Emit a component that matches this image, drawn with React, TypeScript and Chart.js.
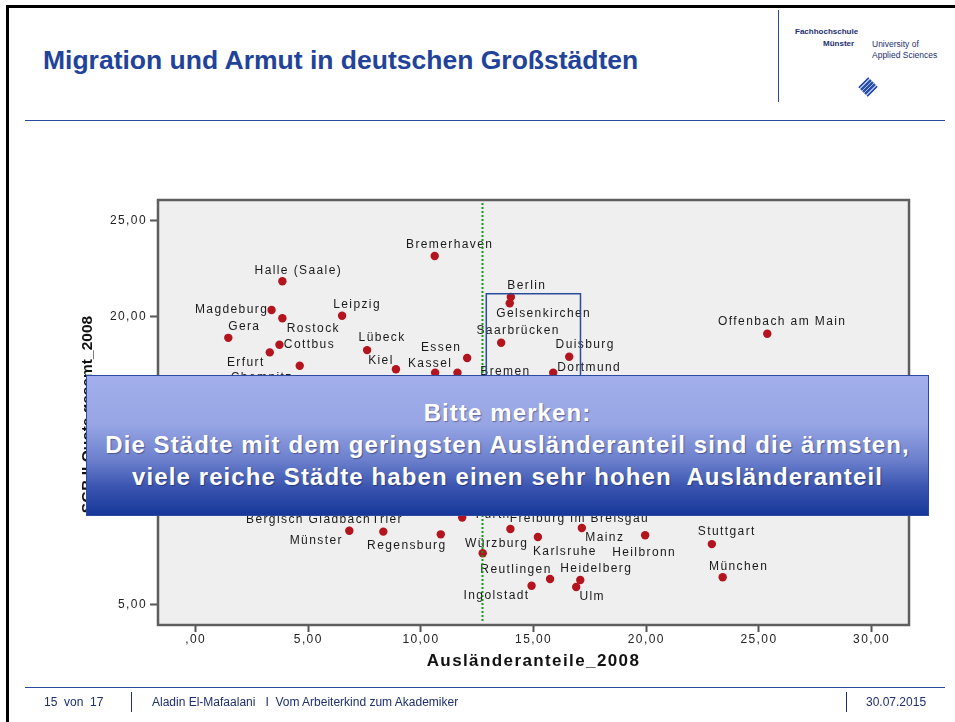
import React, { useEffect, useRef } from "react";
import { Chart, registerables } from "chart.js";

Chart.register(...registerables);

// ---------- data ----------
const cities = [
  "Bremerhaven", "Halle (Saale)", "Magdeburg", "Rostock", "Leipzig", "Gera", "Cottbus", "Erfurt",
  "Chemnitz", "Lübeck", "Kiel", "Essen", "Kassel", "Bremen", "Berlin", "Gelsenkirchen",
  "Saarbrücken", "Duisburg", "Dortmund", "Offenbach am Main", "Fürth", "Bergisch Gladbach",
  "Münster", "Trier", "Regensburg", "Würzburg", "Freiburg im Breisgau", "Mainz", "Karlsruhe",
  "Heilbronn", "Stuttgart", "München", "Reutlingen", "Heidelberg", "Ingolstadt", "Ulm",
];
const auslaenderanteil = [
  10.61, 3.85, 3.37, 3.85, 6.5, 1.45, 3.72, 3.29,
  4.62, 7.61, 8.89, 12.05, 10.63, 11.62, 13.99, 13.94,
  13.56, 16.58, 15.87, 25.37, 11.83, 5.9,
  6.82, 8.33, 10.88, 12.74, 13.97, 17.14, 15.19,
  19.95, 22.91, 23.39, 15.73, 17.07, 14.91, 16.89,
];
const sgb2Quote = [
  23.17, 21.85, 20.35, 19.92, 20.05, 18.9, 18.54, 18.14,
  17.44, 18.26, 17.26, 17.85, 17.08, 17.08, 21.03, 20.7,
  18.64, 17.91, 17.08, 19.11, 9.53, 10.0,
  8.84, 8.79, 8.65, 7.66, 8.93, 8.98, 8.51,
  8.6, 8.14, 6.41, 6.32, 6.27, 5.97, 5.9,
];
// label placement relative to its point (pixels)
const labelDx = [
  15, 16, -40, 31, 15, 16, 30, -24,
  -38, 15, -15, -26, -5, 48, 16, 34,
  17, 16, 36, 15, 31, -20,
  -33, 4, -34, 14, 69, 23, 27,
  -1, 15, 16, -34, 16, -35, 16,
];
const labelDy = [
  -11, -11, 0, 10, -11, -11, 0, 10,
  12, -12, -9, -10, -9, -1, -11, 10,
  -12, -12, -5, -12, -3, 11,
  10, -12, 11, -10, -10, 10, 15,
  17, -12, -11, -9, -11, 10, 10,
];

const xTickValues = [0, 5, 10, 15, 20, 25, 30];
const yTickValues = [5, 10, 15, 20, 25];
const xRange = [-1.67, 31.66];
const yRange = [3.92, 26.09];
const xTitle = "Ausländeranteile_2008";
const yTitle = "SGB II Quote gesamt_2008";

const meanAuslaenderanteil = 12.72;
const highlightX = [12.9, 17.08];
const highlightY = [12.5, 21.2];

const FONT = '"Liberation Sans", Arial, Helvetica, sans-serif';

const fmt = (v: number) => (v === 0 ? ",00" : v.toFixed(2).replace(".", ","));

const slidePlugin = {
  id: "slidePlugin",
  beforeDraw(chart: any) {
    const { ctx, chartArea: a } = chart;
    ctx.letterSpacing = "1.4px";
    ctx.save();
    ctx.fillStyle = "#efefef";
    ctx.fillRect(a.left, a.top, a.right - a.left, a.bottom - a.top);
    ctx.restore();
  },
  afterDatasetsDraw(chart: any) {
    const { ctx, chartArea: a, scales } = chart;
    const x = scales.x;
    const y = scales.y;
    ctx.save();
    ctx.font = `12px ${FONT}`;
    ctx.fillStyle = "#1a1a1a";
    ctx.textAlign = "center";
    ctx.textBaseline = "middle";
    cities.forEach((c, i) => {
      const px = x.getPixelForValue(auslaenderanteil[i]);
      const py = y.getPixelForValue(sgb2Quote[i]);
      ctx.fillText(c, px + labelDx[i], py + labelDy[i]);
    });
    // mean line
    const gx = Math.round(x.getPixelForValue(meanAuslaenderanteil)) + 0.5;
    ctx.strokeStyle = "#17991a";
    ctx.lineWidth = 2;
    ctx.setLineDash([2, 2]);
    ctx.beginPath();
    ctx.moveTo(gx, a.top + 3);
    ctx.lineTo(gx, a.bottom - 2);
    ctx.stroke();
    ctx.setLineDash([]);
    // highlight box
    const x0 = x.getPixelForValue(highlightX[0]);
    const x1 = x.getPixelForValue(highlightX[1]);
    const y0 = y.getPixelForValue(highlightY[1]);
    const y1 = y.getPixelForValue(highlightY[0]);
    ctx.strokeStyle = "#2b4c9c";
    ctx.lineWidth = 1.5;
    ctx.strokeRect(x0, y0, x1 - x0, y1 - y0);
    // frame
    ctx.strokeStyle = "#5e5e5e";
    ctx.lineWidth = 2.5;
    ctx.strokeRect(a.left, a.top, a.right - a.left, a.bottom - a.top);
    // y axis title (tighter than the library title)
    ctx.letterSpacing = "0px";
    ctx.font = `bold 15.5px ${FONT}`;
    ctx.fillStyle = "#111";
    ctx.translate(88, (a.top + a.bottom) / 2 + 2);
    ctx.rotate(-Math.PI / 2);
    ctx.fillText(yTitle, 0, 0);
    ctx.restore();
  },
};

function ScatterChart() {
  const ref = useRef<HTMLCanvasElement | null>(null);
  useEffect(() => {
    if (!ref.current) return;
    const chart = new Chart(ref.current, {
      type: "scatter",
      data: {
        datasets: [
          {
            data: auslaenderanteil.map((v, i) => ({ x: v, y: sgb2Quote[i] })),
            backgroundColor: "#b3141d",
            borderWidth: 0,
            pointRadius: 4.2,
            pointHoverRadius: 4.2,
          },
        ],
      },
      options: {
        animation: false,
        responsive: false,
        devicePixelRatio: 1,
        events: [],
        layout: { padding: { left: 78.4, top: 200, right: 46, bottom: 50 } },
        plugins: { legend: { display: false }, tooltip: { enabled: false } },
        scales: {
          x: {
            type: "linear",
            min: xRange[0],
            max: xRange[1],
            afterBuildTicks: (s: any) => {
              s.ticks = xTickValues.map((v) => ({ value: v }));
            },
            afterFit: (s: any) => {
              s.height = 47;
            },
            ticks: {
              callback: (v: any) => fmt(Number(v)),
              font: { size: 12, family: FONT },
              color: "#222",
              padding: 0,
              maxRotation: 0,
              autoSkip: false,
            },
            grid: { drawOnChartArea: false, drawTicks: true, tickLength: 7, tickColor: "#555", tickWidth: 2 },
            border: { display: false },
            title: {
              display: true,
              text: xTitle,
              font: { size: 17, weight: "bold", family: FONT },
              color: "#111",
              padding: 0,
            },
          },
          y: {
            type: "linear",
            min: yRange[0],
            max: yRange[1],
            afterBuildTicks: (s: any) => {
              s.ticks = yTickValues.map((v) => ({ value: v }));
            },
            afterFit: (s: any) => {
              s.width = 79.6;
            },
            ticks: {
              callback: (v: any) => fmt(Number(v)),
              font: { size: 12, family: FONT },
              color: "#222",
              padding: 3,
              autoSkip: false,
            },
            grid: { drawOnChartArea: false, drawTicks: true, tickLength: 8, tickColor: "#555", tickWidth: 2 },
            border: { display: false },
            title: { display: false },
          },
        },
      },
      plugins: [slidePlugin],
    });
    return () => chart.destroy();
  }, []);
  return (
    <canvas
      ref={ref}
      width={955}
      height={722}
      style={{ position: "absolute", left: 0, top: 0, width: 955, height: 722 }}
    />
  );
}

const abs = (s: React.CSSProperties): React.CSSProperties => ({ position: "absolute", ...s });

export default function App() {
  const blue = "#2a4a9a";
  const navy = "#1c2f6e";
  return (
    <div style={abs({ left: 0, top: 0, width: 955, height: 722, background: "#fff", overflow: "hidden", fontFamily: FONT })}>
      {/* black slide frame */}
      <div style={abs({ left: 6, top: 5, width: 949, height: 3, background: "#000" })} />
      <div style={abs({ left: 6, top: 5, width: 3, height: 717, background: "#000" })} />
      {/* header */}
      <div
        style={abs({
          left: 43,
          top: 45,
          fontSize: 26.5,
          lineHeight: "30px",
          fontWeight: "bold",
          color: "#22439a",
          whiteSpace: "nowrap",
        })}
      >
        Migration und Armut in deutschen Großstädten
      </div>
      <div style={abs({ left: 778, top: 10, width: 1, height: 92, background: blue })} />
      <div style={abs({ left: 795, top: 27, fontSize: 8, fontWeight: "bold", color: navy, whiteSpace: "nowrap" })}>
        Fachhochschule
      </div>
      <div style={abs({ left: 823, top: 39, fontSize: 8, fontWeight: "bold", color: navy, whiteSpace: "nowrap" })}>
        Münster
      </div>
      <div style={abs({ left: 872, top: 39, fontSize: 8.5, color: navy, whiteSpace: "nowrap" })}>University of</div>
      <div style={abs({ left: 872, top: 50, fontSize: 8.5, color: navy, whiteSpace: "nowrap" })}>Applied Sciences</div>
      <div
        style={abs({
          left: 861,
          top: 80,
          width: 14,
          height: 14,
          transform: "rotate(45deg)",
          background: "repeating-linear-gradient(90deg, #2a4fa8 0px, #2a4fa8 2px, #a9bbe4 2px, #a9bbe4 3px)",
        })}
      />
      <div style={abs({ left: 25, top: 120, width: 920, height: 1, background: blue })} />

      <ScatterChart />

      {/* overlay note */}
      <div
        style={abs({
          left: 86,
          top: 375,
          width: 843,
          height: 141,
          boxSizing: "border-box",
          border: "1px solid #2c4aa0",
          background: "linear-gradient(180deg, #a2afec 0%, #97a5e4 35%, #6c80cd 60%, #3a55b0 80%, #163799 100%)",
          color: "#fff",
          fontWeight: "bold",
          fontSize: 24,
          letterSpacing: "1.1px",
          lineHeight: "32px",
          textAlign: "center",
          paddingTop: 21,
          textShadow: "1px 1px 1px rgba(0,0,30,0.35)",
          whiteSpace: "nowrap",
        })}
      >
        <div>Bitte merken:</div>
        <div>Die Städte mit dem geringsten Ausländeranteil sind die ärmsten,</div>
        <div style={{ whiteSpace: "pre" }}>viele reiche Städte haben einen sehr hohen  Ausländeranteil</div>
      </div>

      {/* footer */}
      <div style={abs({ left: 25, top: 687, width: 920, height: 1, background: blue })} />
      <div style={abs({ left: 131, top: 692, width: 1, height: 20, background: navy })} />
      <div style={abs({ left: 846, top: 692, width: 1, height: 20, background: navy })} />
      <div style={abs({ left: 44, top: 695, fontSize: 12, color: navy, whiteSpace: "pre" })}>15  von  17</div>
      <div style={abs({ left: 152, top: 695, fontSize: 12, color: navy, whiteSpace: "pre" })}>
        Aladin El-Mafaalani   I  Vom Arbeiterkind zum Akademiker
      </div>
      <div style={abs({ left: 866, top: 695, fontSize: 12, color: navy, whiteSpace: "pre" })}>30.07.2015</div>
    </div>
  );
}
